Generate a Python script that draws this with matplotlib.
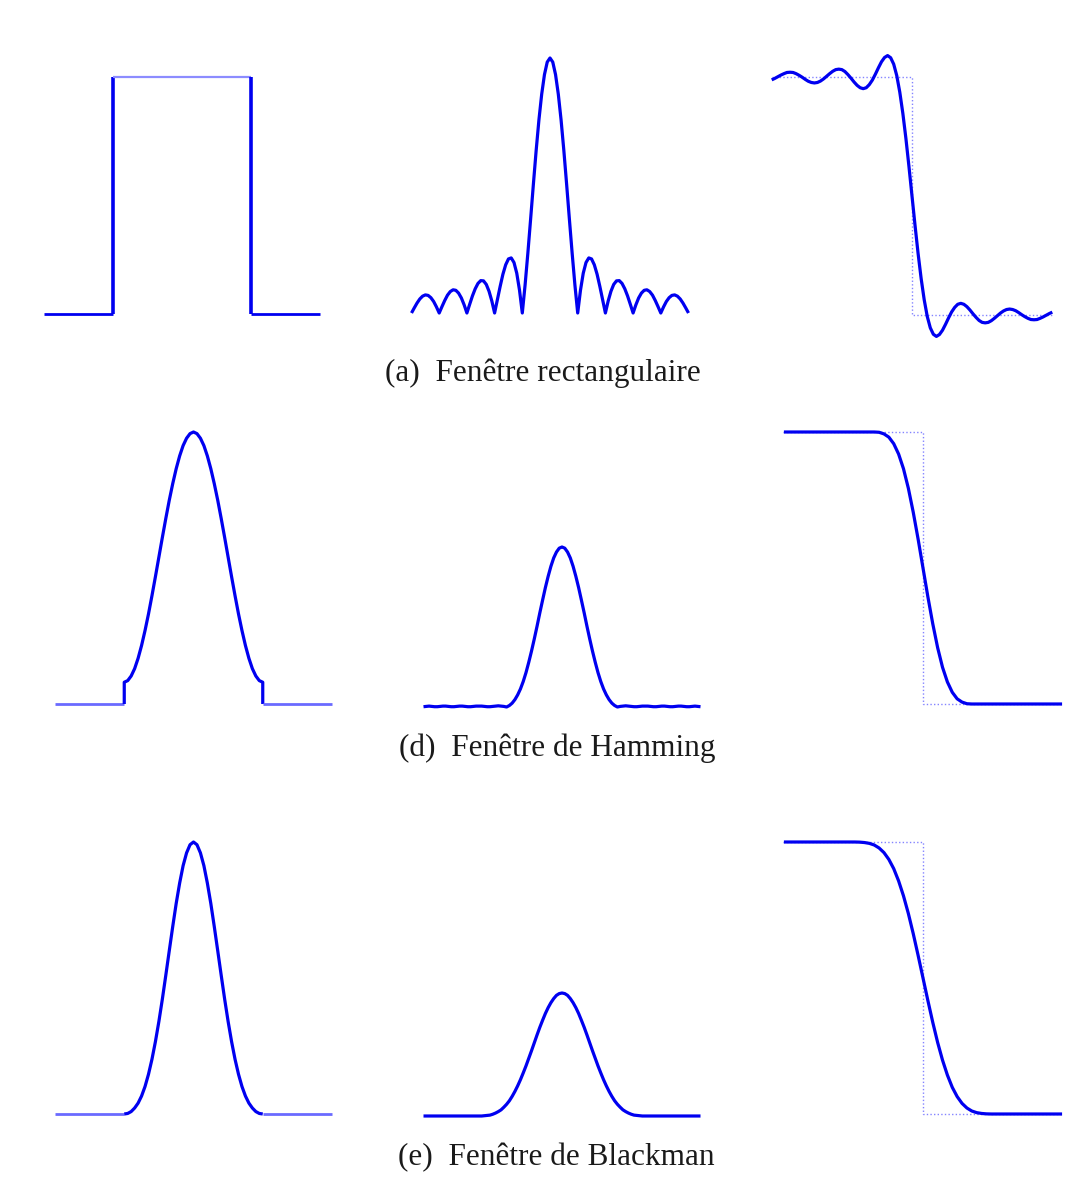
import numpy as np
import matplotlib
matplotlib.use('Agg')
import matplotlib.pyplot as plt

W, H = 1066, 1183

# ---- fenetres (temps normalise, -1..1) ----
rect_t = [-1.0, -0.5, -0.5, 0.5, 0.5, 1.0]
rect_w = [0, 0, 1, 1, 0, 0]

win_grid = np.linspace(-0.5, 0.5, 41)
hamming_vals = [0.080, 0.086, 0.103, 0.130, 0.168, 0.215, 0.270, 0.331, 0.398, 0.468, 0.540,
                0.612, 0.682, 0.749, 0.810, 0.865, 0.912, 0.950, 0.977, 0.994, 1.000,
                0.994, 0.977, 0.950, 0.912, 0.865, 0.810, 0.749, 0.682, 0.612, 0.540,
                0.468, 0.398, 0.331, 0.270, 0.215, 0.168, 0.130, 0.103, 0.086, 0.080]
blackman_vals = [0.000, 0.002, 0.009, 0.022, 0.040, 0.066, 0.101, 0.146, 0.201, 0.266, 0.340,
                 0.422, 0.510, 0.600, 0.689, 0.774, 0.849, 0.913, 0.960, 0.990, 1.000,
                 0.990, 0.960, 0.913, 0.849, 0.774, 0.689, 0.600, 0.510, 0.422, 0.340,
                 0.266, 0.201, 0.146, 0.101, 0.066, 0.040, 0.022, 0.009, 0.002, 0.000]

# ---- spectres (module, frequence 0..5, symetrique) ----
freq_half = np.linspace(0, 5, 51)
rect_spec_half = [1.000, 0.984, 0.935, 0.858, 0.757, 0.637, 0.505, 0.368, 0.234, 0.109,
                  0.000, 0.089, 0.156, 0.198, 0.216, 0.212, 0.189, 0.152, 0.104, 0.052,
                  0.000, 0.047, 0.085, 0.112, 0.126, 0.127, 0.116, 0.095, 0.067, 0.034,
                  0.000, 0.032, 0.059, 0.078, 0.089, 0.091, 0.084, 0.070, 0.049, 0.025,
                  0.000, 0.024, 0.045, 0.060, 0.069, 0.071, 0.066, 0.055, 0.039, 0.020,
                  0.000]
hamming_spec_half = [0.540, 0.536, 0.523, 0.503, 0.475, 0.441, 0.403, 0.361, 0.318, 0.273,
                     0.230, 0.189, 0.151, 0.116, 0.086, 0.061, 0.041, 0.025, 0.013, 0.005,
                     0.000, 0.002, 0.003, 0.004, 0.003, 0.002, 0.001, 0.001, 0.002, 0.003,
                     0.003, 0.003, 0.002, 0.001, 0.001, 0.002, 0.003, 0.003, 0.002, 0.001,
                     0.001, 0.002, 0.003, 0.003, 0.002, 0.001, 0.001, 0.002, 0.003, 0.002,
                     0.001]
blackman_spec_half = [0.420, 0.418, 0.412, 0.401, 0.387, 0.370, 0.350, 0.327, 0.303, 0.277,
                      0.250, 0.223, 0.197, 0.171, 0.147, 0.124, 0.103, 0.084, 0.067, 0.052,
                      0.040, 0.030, 0.021, 0.015, 0.010, 0.006, 0.003, 0.002, 0.001, 0.000,
                      0.000, 0.000, 0.000, 0.000, 0.000, 0.000, 0.000, 0.000, 0.000, 0.000,
                      0.000, 0.000, 0.000, 0.000, 0.000, 0.000, 0.000, 0.000, 0.000, 0.000,
                      0.000]

# ---- reponses du filtre (gabarit ideal en pointille) ----
rect_u = np.linspace(-5.75, 5.75, 93)
rect_step = [0.988, 0.994, 1.001, 1.008, 1.014, 1.019, 1.020, 1.019, 1.014, 1.007, 0.999, 0.990,
             0.982, 0.977, 0.975, 0.977, 0.983, 0.992, 1.003, 1.014, 1.024, 1.031, 1.033, 1.031,
             1.023, 1.010, 0.995, 0.979, 0.965, 0.955, 0.951, 0.955, 0.968, 0.987, 1.012, 1.039,
             1.064, 1.082, 1.090, 1.081, 1.054, 1.006, 0.936, 0.847, 0.742, 0.624, 0.500,
             0.376, 0.258, 0.153, 0.064, -0.006, -0.054, -0.081, -0.090, -0.082, -0.064, -0.039,
             -0.012, 0.013, 0.032, 0.045, 0.049, 0.045, 0.035, 0.021, 0.005, -0.010, -0.023,
             -0.031, -0.033, -0.031, -0.024, -0.014, -0.003, 0.008, 0.017, 0.023, 0.025, 0.023,
             0.018, 0.010, 0.001, -0.007, -0.014, -0.019, -0.020, -0.019, -0.014, -0.008, -0.001,
             0.006, 0.012]

hamming_u = [-5.7, -2.0, -1.8, -1.6, -1.4, -1.2, -1.0, -0.8, -0.6, -0.4, -0.2, 0.0,
             0.2, 0.4, 0.6, 0.8, 1.0, 1.2, 1.4, 1.6, 1.8, 2.0, 5.7]
hamming_step = [1.0, 1.0, 0.999, 0.993, 0.981, 0.957, 0.919, 0.865, 0.793, 0.705, 0.606, 0.500,
                0.394, 0.295, 0.207, 0.135, 0.081, 0.043, 0.019, 0.007, 0.001, 0.0, 0.0]

blackman_u = [-5.7, -3.0, -2.8, -2.6, -2.4, -2.2, -2.0, -1.8, -1.6, -1.4, -1.2, -1.0, -0.8, -0.6,
              -0.4, -0.2, 0.0, 0.2, 0.4, 0.6, 0.8, 1.0, 1.2, 1.4, 1.6, 1.8, 2.0, 2.2, 2.4, 2.6,
              2.8, 3.0, 5.7]
blackman_step = [1.0, 1.0, 1.0, 0.9995, 0.998, 0.995, 0.989, 0.978, 0.961, 0.936, 0.902, 0.857,
                 0.802, 0.737, 0.663, 0.583, 0.500, 0.417, 0.337, 0.263, 0.198, 0.143, 0.098,
                 0.064, 0.039, 0.022, 0.011, 0.005, 0.002, 0.0005, 0.0, 0.0, 0.0]

ideal_u = [-5.75, 0, 0, 5.75]
ideal_g = [1, 1, 0, 0]

captions = ['(a)  Fenêtre rectangulaire', '(d)  Fenêtre de Hamming', '(e)  Fenêtre de Blackman']

BLUE = '#0000f0'
LIGHT = '#6a6aff'
DOT = '#8484ff'

fig = plt.figure(figsize=(W / 100, H / 100), dpi=100)
fig.patch.set_facecolor('white')


def panel(x0, x1, ytop, ybot, xlim, ylim):
    # axes places en pixels de l'image
    ax = fig.add_axes([x0 / W, 1 - ybot / H, (x1 - x0) / W, (ybot - ytop) / H])
    ax.set_xlim(*xlim)
    ax.set_ylim(*ylim)
    ax.axis('off')
    return ax


def curve(ax, x, y, color=BLUE, lw=2.3):
    ax.plot(x, y, color=color, lw=lw, clip_on=False,
            solid_joinstyle='round', solid_capstyle='butt')


def ideal(ax):
    ax.plot(ideal_u, ideal_g, color=DOT, lw=1.0, ls=(0, (1, 1.6)), clip_on=False)


def mirror(vals):
    vals = list(vals)
    return vals[:0:-1] + vals


def window(ax, t, w):
    # bords plats plus clairs, comme sur l'original
    curve(ax, t[:2], w[:2], color=LIGHT, lw=2.0)
    curve(ax, t[1:-1], w[1:-1])
    curve(ax, t[-2:], w[-2:], color=LIGHT, lw=2.0)


freq = np.concatenate([-freq_half[:0:-1], freq_half])

# ligne 1 : rectangulaire
ax = panel(44, 320, 77, 314, (-1, 1), (0, 1))
curve(ax, rect_t[:2], rect_w[:2], lw=2.0)
curve(ax, rect_t[1:3], rect_w[1:3], lw=2.6)
curve(ax, rect_t[2:4], rect_w[2:4], color='#8c8cff', lw=1.6)
curve(ax, rect_t[3:5], rect_w[3:5], lw=2.6)
curve(ax, rect_t[4:], rect_w[4:], lw=2.0)

ax = panel(411.5, 688.5, 58, 313, (-5, 5), (0, 1))
curve(ax, freq, mirror(rect_spec_half))

ax = panel(771.7, 1052.3, 77, 315, (-5.75, 5.75), (0, 1))
ideal(ax)
curve(ax, rect_u, rect_step)

# ligne 2 : Hamming
ax = panel(55, 332, 432, 704, (-1, 1), (0, 1))
window(ax, [-1.0, -0.5] + list(win_grid) + [0.5, 1.0], [0, 0] + hamming_vals + [0, 0])

ax = panel(423.5, 700.5, 547, 707, (-5, 5), (0, 0.54))
curve(ax, freq, mirror(hamming_spec_half))

ax = panel(782.7, 1063.3, 432, 704, (-5.75, 5.75), (0, 1))
ideal(ax)
curve(ax, hamming_u, hamming_step)

# ligne 3 : Blackman
ax = panel(55, 332, 842, 1114, (-1, 1), (0, 1))
window(ax, [-1.0] + list(win_grid) + [1.0], [0] + blackman_vals + [0])

ax = panel(423.5, 700.5, 993, 1116, (-5, 5), (0, 0.42))
curve(ax, freq, mirror(blackman_spec_half))

ax = panel(782.7, 1063.3, 842, 1114, (-5.75, 5.75), (0, 1))
ideal(ax)
curve(ax, blackman_u, blackman_step)

# legendes
cap_pos = [(543, 373), (557, 748), (556, 1158)]
for txt, (cx, cy) in zip(captions, cap_pos):
    fig.text(cx / W, 1 - cy / H, txt, ha='center', va='center', fontsize=22.5,
             family=['Liberation Serif', 'DejaVu Serif'], color='#1a1a1a')

fig.savefig('out.png', dpi=100, facecolor='white')
